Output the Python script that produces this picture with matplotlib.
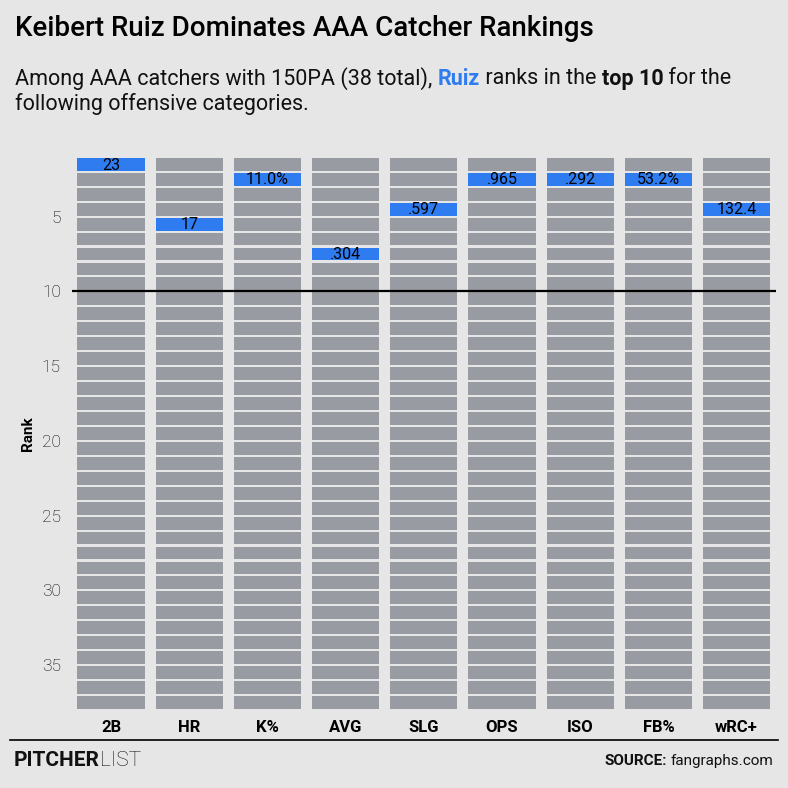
import matplotlib
matplotlib.use("Agg")
import matplotlib.pyplot as plt

# Ruiz rank among AAA catchers (150+ PA) per category
categories = ["2B", "HR", "K%", "AVG", "SLG", "OPS", "ISO", "FB%", "wRC+"]
ruiz_rank = [1, 5, 2, 7, 4, 2, 2, 2, 4]
ruiz_value = ["23", "17", "11.0%", ".304", ".597", ".965", ".292", "53.2%", "132.4"]
n_catchers = 38
y_ticks = [5, 10, 15, 20, 25, 30, 35]

BG = "#e6e6e6"
GRAY = "#989ba1"
BLUE = "#2e7cf0"
FONT = "Roboto"

plt.rcParams["font.family"] = [FONT, "DejaVu Sans"]

fig = plt.figure(figsize=(7.88, 7.88), dpi=100, facecolor=BG)
ax = fig.add_axes([0.0914, 0.099, 0.893, 0.702])
ax.set_facecolor(BG)

# one cell per rank, white gaps between them
for i, cat in enumerate(categories):
    for r in range(1, n_catchers):
        color = BLUE if r == ruiz_rank[i] else GRAY
        ax.bar(i, 0.86, width=0.86, bottom=r + 0.07, color=color, linewidth=0)
    ax.text(i, ruiz_rank[i] + 0.55, ruiz_value[i], ha="center", va="center",
            fontsize=11.5, color="black")

ax.axhline(10, color="black", linewidth=1.6)
ax.set_xlim(-0.5, len(categories) - 0.5)
ax.set_ylim(n_catchers, 1)
ax.set_xticks(range(len(categories)))
ax.set_xticklabels(categories, fontsize=12, fontweight="bold")
ax.set_yticks(y_ticks)
ax.set_yticklabels([str(t) for t in y_ticks], fontsize=12.5, fontweight="light",
                   color="#000000")
ax.tick_params(length=0, pad=7)
ax.tick_params(axis="y", pad=8)
for s in ax.spines.values():
    s.set_visible(False)
ax.set_ylabel("Rank", fontsize=11, fontweight="bold", labelpad=5)

# title and subtitle
fig.text(15 / 788, 1 - 28 / 788, "Keibert Ruiz Dominates AAA Catcher Rankings",
         fontsize=20, fontweight="medium", va="center", ha="left")

fig.canvas.draw()
renderer = fig.canvas.get_renderer()


def draw_runs(x_px, y_px, runs, size):
    x = x_px
    for txt, color, weight in runs:
        t = fig.text(x / 788, 1 - y_px / 788, txt, fontsize=size, color=color,
                     fontweight=weight, va="center", ha="left")
        bb = t.get_window_extent(renderer=renderer)
        x += bb.width


draw_runs(15, 79, [
    ("Among AAA catchers with 150PA (38 total), ", "#111111", "normal"),
    ("Ruiz", BLUE, "bold"),
    (" ranks in the ", "#111111", "normal"),
    ("top 10", "#111111", "bold"),
    (" for the", "#111111", "normal"),
], 15.5)
draw_runs(15, 104, [("following offensive categories.", "#111111", "normal")], 15.5)

# footer
fig.add_artist(plt.Line2D([10 / 788, 778 / 788], [1 - 740 / 788, 1 - 740 / 788],
                          color="black", linewidth=1.2))
draw_runs(14, 761, [("PITCHER", "#111111", "bold"), ("LIST", "#111111", "light")], 15)
fig.text(773 / 788, 1 - 761 / 788, "fangraphs.com", fontsize=11,
         ha="right", va="center", color="#111111")
src = fig.texts[-1]
bb = src.get_window_extent(renderer=renderer)
fig.text((773 - bb.width - 3) / 788, 1 - 761 / 788, "SOURCE:", fontsize=11,
         fontweight="bold", ha="right", va="center", color="#111111")

fig.savefig("out.png", dpi=100, facecolor=BG)
